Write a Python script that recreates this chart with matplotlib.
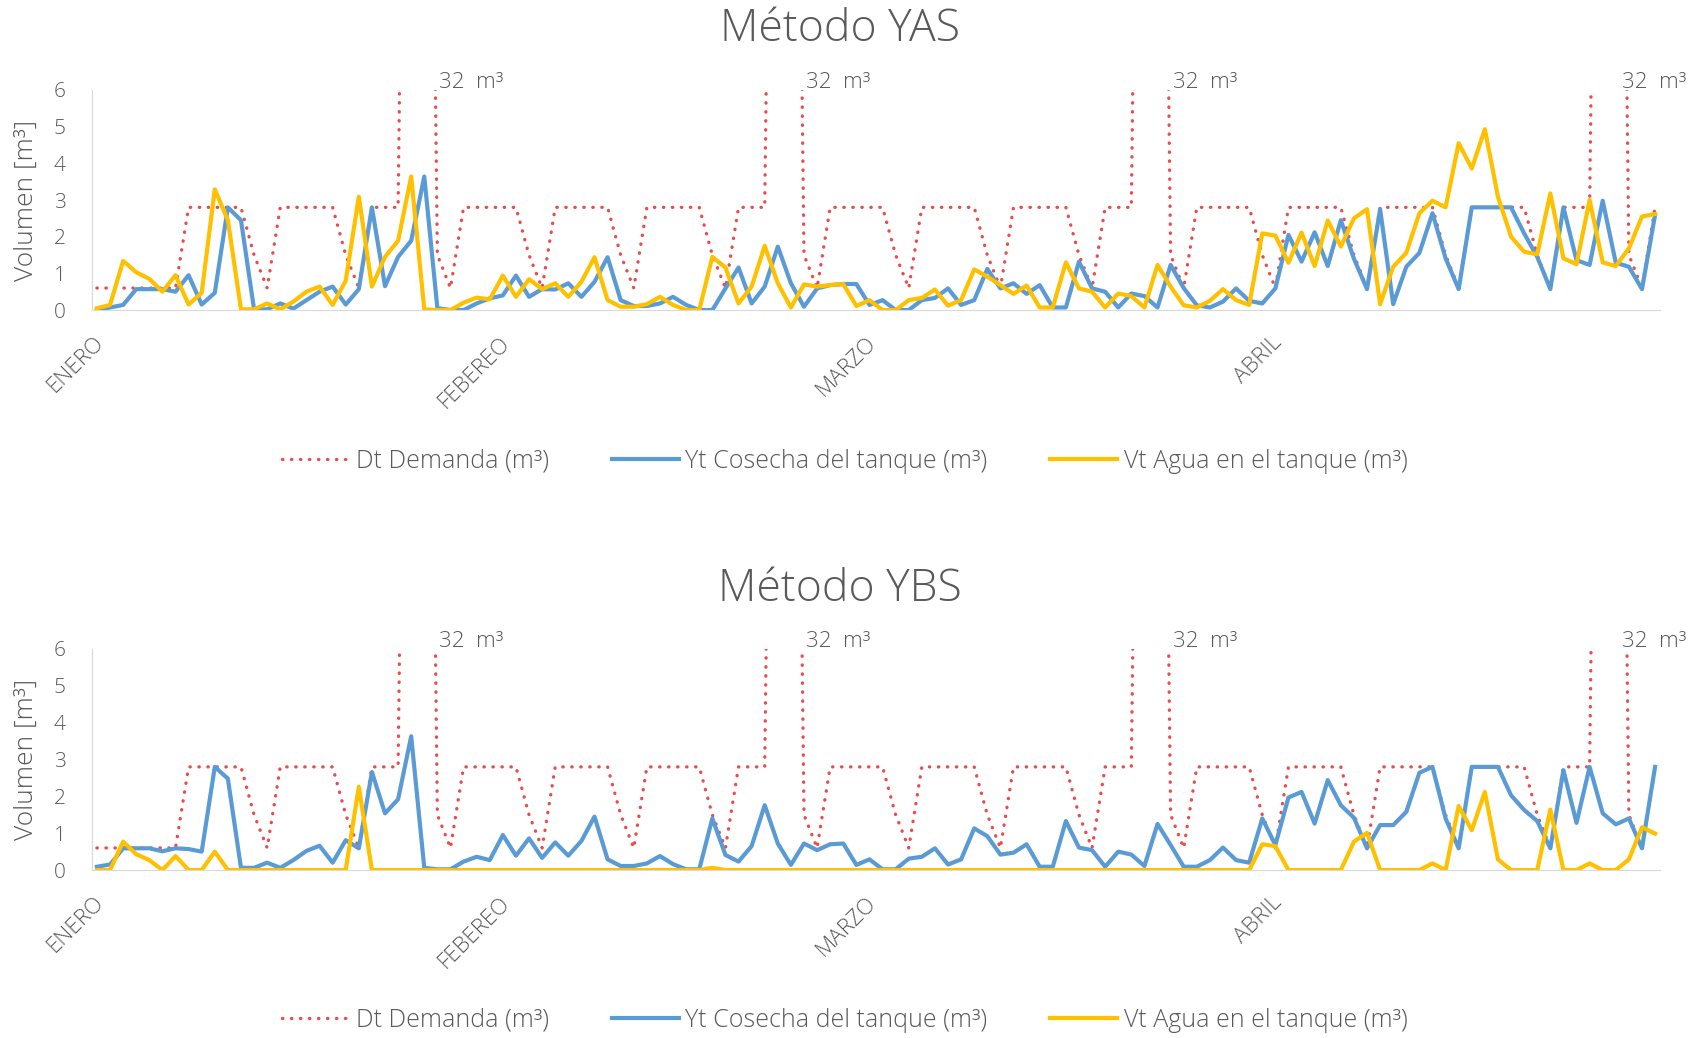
import matplotlib
matplotlib.use("Agg")
import matplotlib.pyplot as plt
import matplotlib.transforms as mtransforms
import numpy as np

plt.rcParams['font.family'] = ['Open Sans', 'DejaVu Sans']
plt.rcParams['font.weight'] = 'light'

# Datos diarios enero-abril (120 días)
meses = ['ENERO', 'FEBEREO', 'MARZO', 'ABRIL']
inicio_mes = [0, 31, 59, 90]

demanda = [
    0.6, 0.6, 0.6, 0.6, 0.6, 0.6, 0.6, 2.8, 2.8, 2.8,
    2.8, 2.8, 1.5, 0.6, 2.8, 2.8, 2.8, 2.8, 2.8, 1.5,
    0.6, 2.8, 2.8, 2.8, 32, 32, 1.5, 0.6, 2.8, 2.8,
    2.8, 2.8, 2.8, 1.5, 0.6, 2.8, 2.8, 2.8, 2.8, 2.8,
    1.5, 0.6, 2.8, 2.8, 2.8, 2.8, 2.8, 1.5, 0.6, 2.8,
    2.8, 2.8, 32, 32, 1.5, 0.6, 2.8, 2.8, 2.8, 2.8,
    2.8, 1.5, 0.6, 2.8, 2.8, 2.8, 2.8, 2.8, 1.5, 0.6,
    2.8, 2.8, 2.8, 2.8, 2.8, 1.5, 0.6, 2.8, 2.8, 2.8,
    32, 32, 1.5, 0.6, 2.8, 2.8, 2.8, 2.8, 2.8, 1.5,
    0.6, 2.8, 2.8, 2.8, 2.8, 2.8, 1.5, 0.6, 2.8, 2.8,
    2.8, 2.8, 2.8, 1.5, 0.6, 2.8, 2.8, 2.8, 2.8, 2.8,
    1.5, 0.6, 2.8, 2.8, 2.8, 32, 32, 1.5, 0.6, 2.8,
]

# Método YAS
yt_yas = [
    0.0, 0.07, 0.14, 0.57, 0.57, 0.57, 0.5, 0.95, 0.15, 0.47,
    2.8, 2.45, 0.02, 0.02, 0.18, 0.04, 0.27, 0.5, 0.64, 0.15,
    0.57, 2.8, 0.65, 1.45, 1.89, 3.64, 0.05, 0.0, 0.0, 0.18,
    0.32, 0.4, 0.94, 0.36, 0.57, 0.56, 0.73, 0.36, 0.77, 1.44,
    0.27, 0.11, 0.11, 0.18, 0.36, 0.14, 0.0, 0.0, 0.59, 1.16,
    0.18, 0.64, 1.73, 0.73, 0.09, 0.59, 0.68, 0.71, 0.71, 0.14,
    0.27, 0.0, 0.0, 0.27, 0.33, 0.59, 0.14, 0.27, 1.12, 0.59,
    0.73, 0.44, 0.68, 0.07, 0.07, 1.32, 0.59, 0.5, 0.07, 0.45,
    0.38, 0.07, 1.23, 0.6, 0.13, 0.07, 0.23, 0.59, 0.25, 0.18,
    0.59, 2.05, 1.32, 2.12, 1.2, 2.45, 1.4, 0.57, 2.75, 0.16,
    1.18, 1.56, 2.64, 1.41, 0.57, 2.8, 2.8, 2.8, 2.8, 2.09,
    1.45, 0.57, 2.8, 1.36, 1.23, 2.98, 1.29, 1.18, 0.57, 2.59,
]
vt_yas = [
    0.05, 0.14, 1.34, 1.03, 0.85, 0.5, 0.95, 0.15, 0.47, 3.29,
    2.45, 0.02, 0.02, 0.18, 0.02, 0.23, 0.5, 0.64, 0.14, 0.8,
    3.09, 0.64, 1.45, 1.89, 3.64, 0.02, 0.0, 0.0, 0.2, 0.34,
    0.29, 0.94, 0.36, 0.84, 0.57, 0.73, 0.36, 0.77, 1.44, 0.27,
    0.09, 0.09, 0.16, 0.36, 0.14, 0.0, 0.0, 1.45, 1.16, 0.18,
    0.64, 1.75, 0.73, 0.07, 0.7, 0.64, 0.68, 0.71, 0.11, 0.27,
    0.0, 0.0, 0.27, 0.33, 0.56, 0.12, 0.27, 1.11, 0.91, 0.68,
    0.44, 0.67, 0.07, 0.07, 1.3, 0.59, 0.5, 0.07, 0.45, 0.38,
    0.07, 1.23, 0.64, 0.13, 0.07, 0.25, 0.57, 0.27, 0.14, 2.09,
    2.03, 1.29, 2.11, 1.2, 2.44, 1.73, 2.5, 2.75, 0.16, 1.18,
    1.56, 2.64, 2.98, 2.8, 4.55, 3.86, 4.93, 3.09, 2.0, 1.59,
    1.52, 3.18, 1.41, 1.25, 3.0, 1.3, 1.2, 1.68, 2.55, 2.62,
]

# Método YBS
yt_ybs = [
    0.09, 0.15, 0.59, 0.59, 0.59, 0.51, 0.59, 0.57, 0.5, 2.8,
    2.48, 0.06, 0.06, 0.2, 0.06, 0.27, 0.52, 0.66, 0.2, 0.81,
    0.59, 2.66, 1.54, 1.92, 3.63, 0.06, 0.02, 0.02, 0.23, 0.36,
    0.27, 0.95, 0.39, 0.86, 0.33, 0.75, 0.39, 0.79, 1.45, 0.29,
    0.11, 0.11, 0.18, 0.38, 0.16, 0.02, 0.02, 1.4, 0.41, 0.23,
    0.65, 1.76, 0.72, 0.14, 0.72, 0.54, 0.7, 0.72, 0.14, 0.29,
    0.02, 0.02, 0.31, 0.36, 0.59, 0.15, 0.29, 1.13, 0.92, 0.42,
    0.47, 0.7, 0.09, 0.09, 1.33, 0.61, 0.54, 0.09, 0.5, 0.42,
    0.11, 1.25, 0.68, 0.09, 0.09, 0.27, 0.61, 0.27, 0.2, 1.4,
    0.68, 1.97, 2.12, 1.26, 2.44, 1.76, 1.42, 0.59, 1.22, 1.22,
    1.58, 2.64, 2.8, 1.4, 0.59, 2.8, 2.8, 2.8, 2.03, 1.63,
    1.33, 0.59, 2.71, 1.28, 2.8, 1.54, 1.24, 1.4, 0.59, 2.8,
]
vt_ybs = [
    0, 0, 0.77, 0.43, 0.27, 0, 0.38, 0, 0, 0.5,
    0, 0, 0, 0, 0, 0, 0, 0, 0, 0,
    2.26, 0, 0, 0, 0, 0, 0, 0, 0, 0,
    0, 0, 0, 0, 0, 0, 0, 0, 0, 0,
    0, 0, 0, 0, 0, 0, 0, 0.06, 0, 0,
    0, 0, 0, 0, 0, 0, 0, 0, 0, 0,
    0, 0, 0, 0, 0, 0, 0, 0, 0, 0,
    0, 0, 0, 0, 0, 0, 0, 0, 0, 0,
    0, 0, 0, 0, 0, 0, 0, 0, 0, 0.7,
    0.65, 0, 0, 0, 0, 0, 0.77, 1.01, 0, 0,
    0, 0, 0.18, 0, 1.74, 1.08, 2.12, 0.29, 0, 0,
    0, 1.64, 0, 0, 0.18, 0, 0, 0.29, 1.16, 0.99,
]

gris = '#595959'
rojo = '#EB4B4B'
azul = '#5B9BD5'
amarillo = '#FFC000'

fig = plt.figure(figsize=(17, 10.38), dpi=100)
x = np.arange(len(demanda))


def panel(rect, yt, vt, titulo, y_titulo, y_leyenda):
    ax = fig.add_axes(rect)
    ax.plot(x, demanda, color=rojo, lw=2.4, linestyle=(0, (0.1, 2.6)),
            dash_capstyle='round', label='Dt Demanda (m³)')
    ax.plot(x, yt, color=azul, lw=3, label='Yt Cosecha del tanque (m³)')
    ax.plot(x, vt, color=amarillo, lw=3, label='Vt Agua en el tanque (m³)')

    ax.set_xlim(-0.38, 119.38)
    ax.set_ylim(0, 6)
    ax.set_yticks(range(7))
    ax.set_xticks(inicio_mes)
    ax.set_xticklabels(meses, rotation=45, ha='right', fontsize=16)
    ax.tick_params(axis='both', length=0, colors=gris)
    ax.tick_params(axis='y', pad=19, labelsize=15)
    ax.tick_params(axis='x', pad=16)
    # correr las etiquetas de mes un poco a la derecha
    desplaza = mtransforms.ScaledTranslation(0.11, 0, fig.dpi_scale_trans)
    for lab in ax.get_xticklabels():
        lab.set_transform(lab.get_transform() + desplaza)
    for s in ['top', 'right']:
        ax.spines[s].set_visible(False)
    for s in ['left', 'bottom']:
        ax.spines[s].set_color('#D9D9D9')

    # etiquetas de los picos que salen del eje
    for i in range(len(demanda) - 1):
        if demanda[i] > 6 and demanda[i + 1] <= 6:
            ax.text(min(i + 1.15, 116.5), 6.2, '32  m³', color=gris,
                    fontsize=16, va='center', ha='left', clip_on=False)

    fig.text(26 / 1700, rect[1] + rect[3] / 2, 'Volumen [m³]', rotation=90,
             ha='center', va='center', color=gris, fontsize=19)
    fig.text(0.494, y_titulo, titulo, ha='center', va='center',
             color=gris, fontsize=32)
    ax.legend(loc='center', bbox_to_anchor=(0.497, y_leyenda),
              bbox_transform=fig.transFigure, ncol=3, frameon=False,
              fontsize=18, labelcolor=gris, handlelength=2.7,
              handletextpad=0.25, columnspacing=2.5)
    return ax


panel([0.0541, 0.7013, 0.9224, 0.212], yt_yas, vt_yas, 'Método YAS', 0.971, 0.5555)
panel([0.0541, 0.1618, 0.9224, 0.213], yt_ybs, vt_ybs, 'Método YBS', 0.432, 0.0172)

fig.savefig('out.png', dpi=100)
